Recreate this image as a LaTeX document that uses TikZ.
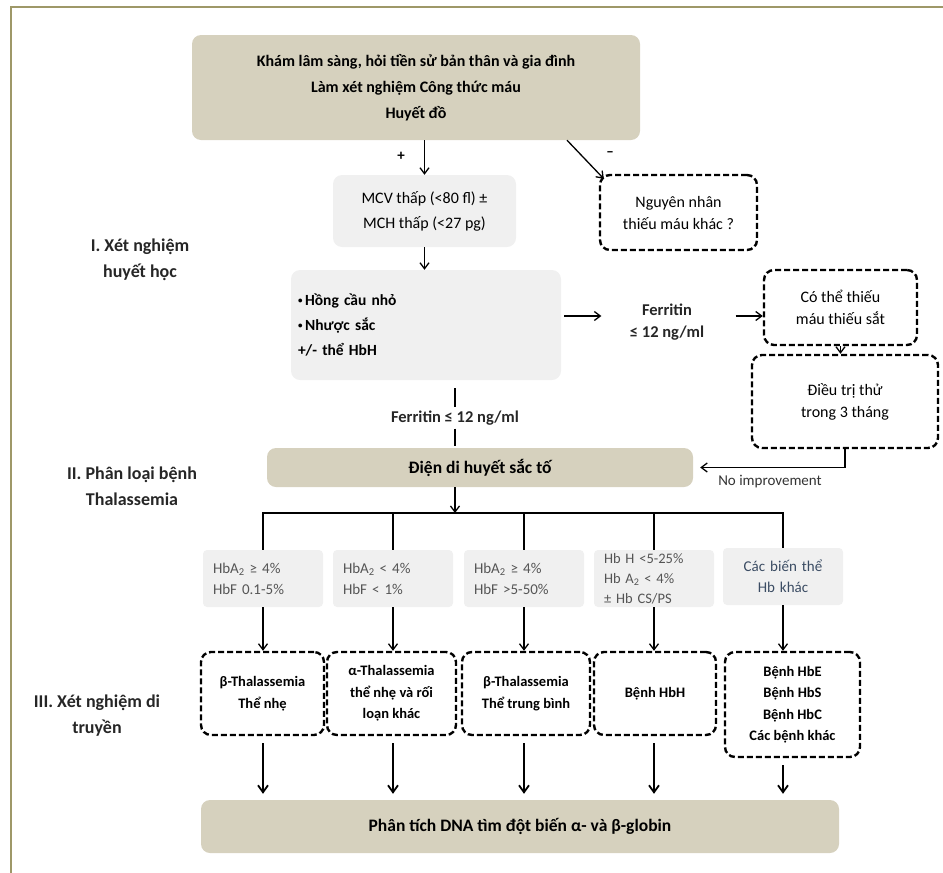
\documentclass[tikz,border=0pt]{standalone}
\usepackage{fontspec}
\setmainfont{Carlito}
\usepackage{tikz}
\usetikzlibrary{arrows.meta,positioning}
\definecolor{cTan}{HTML}{D6D1BE}
\definecolor{cGrey}{HTML}{F0F0F0}
\definecolor{cFrame}{HTML}{9E9868}
\definecolor{cTxt}{HTML}{555555}
\definecolor{cBlue}{HTML}{3B4C63}
\newcommand{\smbul}{\raisebox{1.5pt}{\fontsize{9}{9}\selectfont•}\,}
\tikzset{
  tanbox/.style={rounded corners=9pt,fill=cTan,inner sep=0pt,align=center,
                 font=\bfseries\fontsize{16}{26}\selectfont},
  greybox/.style={rounded corners=9pt,fill=cGrey,inner sep=0pt,align=center,
                  font=\fontsize{16}{25}\selectfont},
  condbox/.style={rounded corners=4pt,fill=cGrey,inner xsep=10pt,inner ysep=0pt,
                  minimum width=120pt,minimum height=57pt,text width=100pt,
                  align=left,text=cTxt,font=\fontsize{15}{21}\selectfont},
  dashbox/.style={draw,line width=2.4pt,dash pattern=on 6pt off 3pt,
                  rounded corners=10pt,inner sep=0pt,align=center,
                  font=\fontsize{16}{22}\selectfont},
  dashboxb/.style={dashbox,font=\bfseries\fontsize{14.5}{21.5}\selectfont},
  lbl/.style={align=center,font=\bfseries\fontsize{18}{26}\selectfont,text=black!85},
  arr/.style={-{Straight Barb[length=6pt,width=9pt]},line width=1.3pt},
  darr/.style={-{Straight Barb[length=7pt,width=10pt]},line width=1.8pt},
  ln/.style={line width=1.3pt},
}

\begin{document}
\begin{tikzpicture}[x=1pt,y=-1pt]
  \useasboundingbox (0,0) rectangle (943,873);
  \draw[cFrame,line width=2.4pt] (943,7) -- (11,7) -- (11,873);

  % I. huyet hoc
  \node[tanbox,minimum width=448pt,minimum height=105pt] (exam) at (416,87.5)
    {Khám lâm sàng, hỏi tiền sử bản thân và gia đình\\Làm xét nghiệm Công thức máu\\Huyết đồ};
  \node[greybox,minimum width=183pt,minimum height=72pt] (mcv) at (424.5,211)
    {MCV thấp (<80 fl) ±\\MCH thấp (<27 pg)};
  \node[dashbox,minimum width=157pt,minimum height=75pt] (other) at (678.5,212.5)
    {Nguyên nhân\\thiếu máu khác ?};
  \node[font=\bfseries\fontsize{15}{16}\selectfont] (plus) at (401,156) {+};
  \node[font=\bfseries\fontsize{15}{16}\selectfont] (minus) at (610,154) {–};
  \draw[arr] (exam.south -| mcv) -- (mcv.north);
  \draw[arr] ([xshift=151pt]exam.south) -- ([shift={(5,5)}]other.north west);
  \node[lbl] (sec1) at (140,260) {I. Xét nghiệm\\huyết học};
  \node[greybox,font=\bfseries\fontsize{15.5}{25}\selectfont,minimum width=270pt,
        minimum height=110pt,text width=256pt,align=left] (micro) at (426,325)
    {\smbul Hồng cầu nhỏ\\\smbul Nhược sắc\\+/- thể HbH};
  \draw[arr] (mcv.south) -- (mcv.south |- micro.north);
  \coordinate (fy) at (0,316);
  \node[lbl,font=\bfseries\fontsize{16.5}{22}\selectfont] (ferA) at (667,322) {Ferritin\\≤ 12 ng/ml};
  \node[dashbox,minimum width=153pt,minimum height=75pt] (iron) at (840.5,307.5)
    {Có thể thiếu\\máu thiếu sắt};
  \node[dashbox,minimum width=186pt,minimum height=93pt] (trial) at (845,401.5)
    {Điều trị thử\\trong 3 tháng};
  \draw[arr,shorten <=3pt,shorten >=25pt] (micro.east |- fy) -- (ferA.west |- fy);
  \draw[arr,shorten <=28pt] (ferA.east |- fy) -- (iron.west |- fy);
  \draw[arr] (iron.south) -- (iron.south |- trial.north);

  % II. phan loai
  \node[lbl,font=\bfseries\fontsize{16.5}{20}\selectfont] (ferB) at (455,418) {Ferritin ≤ 12 ng/ml};
  \node[tanbox,minimum width=426pt,minimum height=39pt,
        font=\bfseries\fontsize{17.5}{20}\selectfont] (hbe) at (480,467.5) {Điện di huyết sắc tố};
  \draw[ln,shorten <=8pt] (micro.south -| ferB) -- (ferB.north);
  \draw[ln,shorten >=2pt] (ferB.south) -- (ferB |- hbe.north);
  \draw[arr,shorten >=7pt] (trial.south) |- (hbe.east);
  \node[font=\fontsize{15}{16}\selectfont,text=black!80] (noimp) at (770,482) {No improvement};
  \node[lbl] (sec2) at (132,486) {II. Phân loại bệnh\\Thalassemia};
  \coordinate (bus) at (455,513);
  \draw[arr] (hbe.south -| bus) -- (bus);

  \node[condbox] (c1) at (263,578.5) {HbA\textsubscript{2} ≥ 4\%\\HbF 0.1-5\%};
  \node[condbox] (c2) at (393,578.5) {HbA\textsubscript{2} < 4\%\\HbF < 1\%};
  \node[condbox] (c3) at (524,578.5) {HbA\textsubscript{2} ≥ 4\%\\HbF >5-50\%};
  \node[condbox,font=\fontsize{14.5}{20}\selectfont] (c4) at (654,578.5)
    {Hb H <5-25\%\\Hb A\textsubscript{2} < 4\%\\± Hb CS/PS};
  \node[condbox,align=center,text=cBlue] (c5) at (783,576.5) {Các biến thể\\Hb khác};
  \draw[ln] (c1.north) |- (bus) -| (c5.north);
  \foreach \i in {2,3,4}{\draw[ln] (c\i.north) -- (c\i.north |- bus);}

  % III. di truyen
  \node[lbl] (sec3) at (97,716) {III. Xét nghiệm di\\truyền};
  \node[dashboxb,minimum width=123pt,minimum height=83pt] (d1) at (262.5,693.5)
    {β-Thalassemia\\Thể nhẹ};
  \node[dashboxb,minimum width=129pt,minimum height=83pt] (d2) at (391.5,693.5)
    {α-Thalassemia\\thể nhẹ và rối\\loạn khác};
  \node[dashboxb,minimum width=128pt,minimum height=83pt] (d3) at (526,693.5)
    {β-Thalassemia\\Thể trung bình};
  \node[dashboxb,minimum width=122pt,minimum height=83pt] (d4) at (655,693.5)
    {Bệnh HbH};
  \node[dashboxb,minimum width=135pt,minimum height=105pt] (d5) at (792.5,704.5)
    {Bệnh HbE\\Bệnh HbS\\Bệnh HbC\\Các bệnh khác};
  \node[tanbox,minimum width=638pt,minimum height=53pt,
        font=\bfseries\fontsize{17.5}{20}\selectfont] (dna) at (520,826.5)
    {Phân tích DNA tìm đột biến α- và β-globin};
  \foreach \i in {1,...,5}{
    \draw[arr] (c\i.south) -- (c\i.south |- d\i.north);
    \draw[darr,shorten <=7pt,shorten >=6pt] (c\i.south |- d\i.south) -- (c\i.south |- dna.north);
  }
\end{tikzpicture}
\end{document}
